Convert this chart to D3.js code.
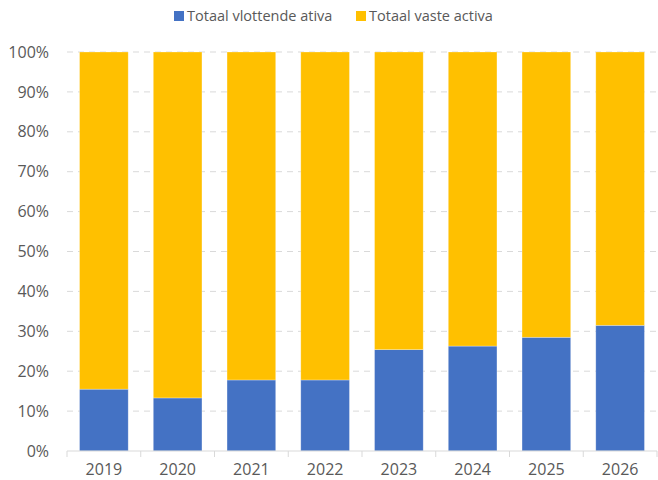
<!DOCTYPE html>
<html>
<head>
<meta charset="utf-8">
<script src="https://cdn.jsdelivr.net/npm/d3@7"></script>
<style>
  body { margin: 0; background: #fff; }
  text { font-family: "Open Sans", sans-serif; fill: #595959; }
</style>
</head>
<body>
<div id="chart"></div>
<script>
const years = ['2019', '2020', '2021', '2022', '2023', '2024', '2025', '2026'];
const vlottend = [15.5, 13.3, 17.8, 17.8, 25.4, 26.3, 28.5, 31.5];
const vast = [84.5, 86.7, 82.2, 82.2, 74.6, 73.7, 71.5, 68.5];
const seriesNames = ['Totaal vlottende ativa', 'Totaal vaste activa'];
const colors = ['#4472c4', '#ffc000'];
const yTicks = [0, 10, 20, 30, 40, 50, 60, 70, 80, 90, 100];

const margin = { top: 52, right: 1, bottom: 29, left: 67 };
const W = 658, H = 480;
const width = W - margin.left - margin.right;
const height = H - margin.top - margin.bottom;

const svg = d3.select('#chart').append('svg')
    .attr('width', W)
    .attr('height', H);

const g = svg.append('g')
    .attr('transform', `translate(${margin.left},${margin.top})`);

const x = d3.scaleBand().domain(years).range([0, width]).paddingInner(0.34).paddingOuter(0.17);
const y = d3.scaleLinear().domain([0, 100]).range([height, 0]);

// gridlines
g.selectAll('.grid').data(yTicks.filter(d => d > 0)).join('line')
    .attr('x1', 0).attr('x2', width)
    .attr('y1', d => y(d)).attr('y2', d => y(d))
    .attr('stroke', '#d9d9d9').attr('stroke-width', 1)
    .attr('stroke-dasharray', '6,5');

// y labels
g.selectAll('.ylab').data(yTicks).join('text')
    .attr('x', -18).attr('y', d => y(d)).attr('dy', '0.35em')
    .attr('text-anchor', 'end').style('font-size', '16px')
    .text(d => d + '%');

// stacked bars
const rows = years.map((yr, i) => ({ year: yr, a: vlottend[i], b: vast[i] }));
const stack = d3.stack().keys(['a', 'b'])(rows);

g.selectAll('.layer').data(stack).join('g')
    .attr('fill', (d, i) => colors[i])
    .selectAll('rect').data(d => d).join('rect')
    .attr('x', d => x(d.data.year))
    .attr('y', d => y(d[1]))
    .attr('width', x.bandwidth())
    .attr('height', d => y(d[0]) - y(d[1]))
    .attr('stroke', '#ffffff').attr('stroke-opacity', 0.4).attr('stroke-width', 0.7);

// x axis
const xAxis = g.append('g').attr('transform', `translate(0,${height})`);
xAxis.append('line').attr('x1', 0).attr('x2', width).attr('stroke', '#d9d9d9');
const bounds = d3.range(years.length + 1).map(i => i * x.step());
xAxis.selectAll('.tick').data(bounds).join('line')
    .attr('x1', d => d).attr('x2', d => d).attr('y1', 0).attr('y2', 6)
    .attr('stroke', '#d9d9d9');
xAxis.selectAll('.xlab').data(years).join('text')
    .attr('x', d => x(d) + x.bandwidth() / 2).attr('y', 24)
    .attr('text-anchor', 'middle').style('font-size', '16px')
    .text(d => d);

// legend
const legend = svg.append('g').attr('transform', 'translate(174,16)');
const items = [{ name: seriesNames[0], c: colors[0], dx: 0 }, { name: seriesNames[1], c: colors[1], dx: 182 }];
items.forEach(it => {
    const lg = legend.append('g').attr('transform', `translate(${it.dx},0)`);
    lg.append('rect').attr('x', 0).attr('y', -5).attr('width', 10).attr('height', 10).attr('fill', it.c);
    lg.append('text').attr('x', 13).attr('y', 0).attr('dy', '0.35em')
        .style('font-size', '14.5px').text(it.name);
});
</script>
</body>
</html>
